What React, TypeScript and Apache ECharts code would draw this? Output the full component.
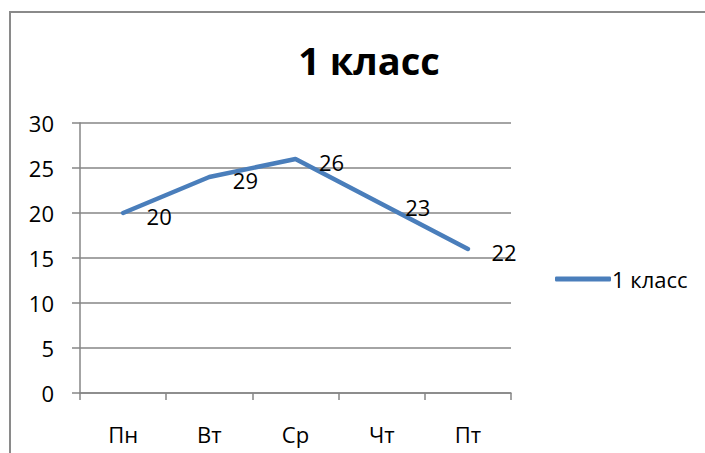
import React, { useEffect, useRef } from "react";
import * as echarts from "echarts";

const title = "1 класс";
const seriesName = "1 класс";
const categories = ["Пн", "Вт", "Ср", "Чт", "Пт"];
const values = [20, 24, 26, 21, 16];
const labelTexts = ["20", "29", "26", "23", "22"];
const yMin = 0;
const yMax = 30;
const yStep = 5;

const FONT = "'Open Sans', 'Noto Sans', sans-serif";

export default function App() {
  const ref = useRef<HTMLDivElement>(null);
  useEffect(() => {
    if (!ref.current) return;
    const chart = echarts.init(ref.current, null, { renderer: "svg" });
    chart.setOption({
      animation: false,
      backgroundColor: "#ffffff",
      title: {
        text: title,
        left: 364,
        textAlign: "center",
        top: 36,
        textStyle: { fontFamily: FONT, fontSize: 38, fontWeight: "bold", color: "#000" },
      },
      graphic: [
        {
          type: "rect",
          shape: { x: 10, y: 12, width: 1000, height: 1000 },
          style: { fill: "none", stroke: "#8a8a8a", lineWidth: 2 },
          silent: true,
        },
      ],
      legend: {
        left: 550,
        top: 263,
        itemWidth: 56,
        itemHeight: 5,
        itemGap: 6,
        data: [{ name: seriesName, icon: "roundRect" }],
        textStyle: { fontFamily: FONT, fontSize: 22, color: "#000", padding: [0, 0, 0, -4] },
      },
      grid: { left: 80, right: 194, top: 123, bottom: 60, containLabel: false },
      xAxis: {
        type: "category",
        data: categories,
        boundaryGap: true,
        axisLine: { show: true, lineStyle: { color: "#868686", width: 1.5 } },
        axisTick: { show: true, length: 7, lineStyle: { color: "#868686", width: 1.5 } },
        axisLabel: { fontFamily: FONT, fontSize: 22, color: "#000", margin: 30 },
        splitLine: { show: false },
      },
      yAxis: {
        type: "value",
        min: yMin,
        max: yMax,
        interval: yStep,
        axisLine: { show: true, lineStyle: { color: "#868686", width: 1.5 } },
        axisTick: { show: true, length: 8, lineStyle: { color: "#868686", width: 1.5 } },
        axisLabel: { fontFamily: FONT, fontSize: 22, color: "#000", margin: 26 },
        splitLine: { show: true, lineStyle: { color: "#868686", width: 1.5 } },
      },
      series: [
        {
          name: seriesName,
          type: "line",
          data: values,
          symbol: "circle",
          symbolSize: 1,
          itemStyle: { color: "#4a7ebb" },
          lineStyle: { color: "#4a7ebb", width: 4.5, cap: "round", join: "round" },
          label: {
            show: true,
            position: "right",
            distance: 23,
            offset: [0, 3],
            fontFamily: FONT,
            fontSize: 22,
            color: "#000",
            formatter: (p: any) => labelTexts[p.dataIndex],
          },
        },
      ],
    });
    return () => chart.dispose();
  }, []);
  return (
    <div
      ref={ref}
      style={{ position: "fixed", left: 0, top: 0, width: 705, height: 453 }}
    />
  );
}
